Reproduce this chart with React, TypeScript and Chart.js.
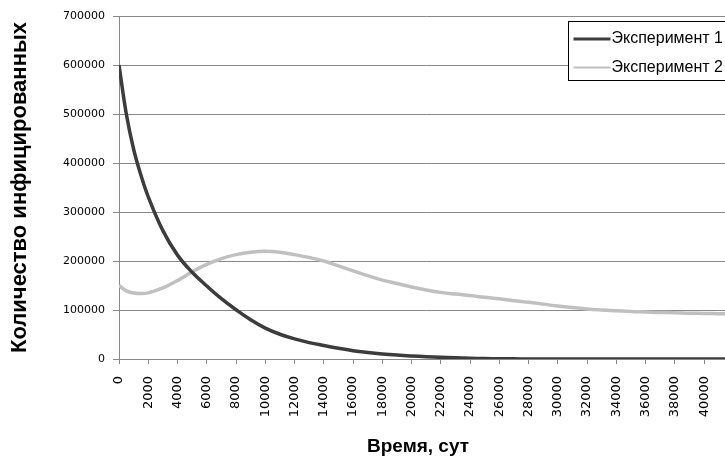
import { useEffect, useRef } from "react";
import { Chart, registerables } from "chart.js";

Chart.register(...registerables);

// Время, сут
const days = [
  0, 500, 1000, 1500, 2000, 3000, 4000, 5000, 6000, 7000, 8000, 9000, 10000,
  11000, 12000, 13000, 14000, 15000, 16000, 17000, 18000, 19000, 20000,
  21000, 22000, 23000, 24000, 25000, 26000, 27000, 28000, 29000, 30000,
  31000, 32000, 33000, 34000, 35000, 36000, 37000, 38000, 39000, 40000,
  41000, 42000,
];

const experiment1 = [
  600000, 500000, 428000, 375000, 331000, 262000, 212000, 177000, 149000, 123000, 100500, 80000, 63000,
  50500, 41000, 33500, 27500, 22000, 17000, 13300, 10300, 8000, 6200,
  4700, 3400, 2300, 1400, 900, 500, 300, 200, 130, 90,
  60, 40, 25, 15, 10, 6, 4, 3, 2, 1,
  1, 0,
];

const experiment2 = [
  150000, 139000, 134500, 133500, 135000, 145000, 160000, 178000, 193000, 205000, 213000, 218000, 220000,
  218000, 213000, 207000, 200000, 190000, 180000, 170000, 161000, 154000, 147000,
  141000, 136000, 132500, 129500, 126000, 123000, 119000, 116000, 112000, 108000,
  105000, 102000, 100000, 98500, 97000, 96000, 95000, 94500, 93500, 93000,
  92500, 92000,
];

const seriesNames = ["Эксперимент 1", "Эксперимент 2"];
const xTicks = [
  0, 2000, 4000, 6000, 8000, 10000, 12000, 14000, 16000, 18000, 20000,
  22000, 24000, 26000, 28000, 30000, 32000, 34000, 36000, 38000, 40000, 42000,
];
const yTicks = [0, 100000, 200000, 300000, 400000, 500000, 600000, 700000];
const xTitle = "Время, сут";
const yTitle = "Количество инфицированных";

const GRID = "#888888";

const boxLegend = {
  id: "boxLegend",
  afterDraw(chart: any) {
    const { ctx, chartArea } = chart;
    const x = Math.round(chartArea.right - 165) + 0.5;
    const y = Math.round(chartArea.top + 5) + 0.5;
    const w = 200;
    const h = 59;
    ctx.save();
    ctx.fillStyle = "#ffffff";
    ctx.fillRect(x, y, w, h);
    ctx.strokeStyle = "#000000";
    ctx.lineWidth = 1;
    ctx.strokeRect(x, y, w, h);
    chart.data.datasets.forEach((ds: any, i: number) => {
      const ly = y + 17.5 + i * 28.4;
      ctx.beginPath();
      ctx.strokeStyle = ds.borderColor;
      ctx.lineWidth = i === 0 ? 3 : 2;
      ctx.moveTo(x + 5, ly);
      ctx.lineTo(x + 42, ly);
      ctx.stroke();
      ctx.fillStyle = "#000000";
      ctx.font = "16px 'Liberation Sans', Arial, sans-serif";
      ctx.textBaseline = "middle";
      ctx.textAlign = "left";
      ctx.fillText(ds.label, x + 43, ly);
    });
    ctx.restore();
  },
};

const xTitlePlugin = {
  id: "xTitlePlugin",
  afterDraw(chart: any) {
    const { ctx, chartArea } = chart;
    ctx.save();
    ctx.fillStyle = "#000000";
    ctx.font = "bold 19px 'Liberation Sans', Arial, sans-serif";
    ctx.textBaseline = "middle";
    ctx.textAlign = "left";
    ctx.fillText(xTitle, chartArea.left + 248, chartArea.bottom + 88);
    ctx.restore();
  },
};

export default function App() {
  const ref = useRef<HTMLCanvasElement | null>(null);

  useEffect(() => {
    if (!ref.current) return;
    const chart = new Chart(ref.current, {
      type: "line",
      data: {
        datasets: [
          {
            label: seriesNames[0],
            data: days.map((d, i) => ({ x: d, y: experiment1[i] })),
            borderColor: "#3c3c3c",
            borderWidth: 3.5,
            pointRadius: 0,
            tension: 0.4,
            fill: false,
          },
          {
            label: seriesNames[1],
            data: days.map((d, i) => ({ x: d, y: experiment2[i] })),
            borderColor: "#c0c0c0",
            borderWidth: 3.5,
            pointRadius: 0,
            tension: 0.4,
            fill: false,
          },
        ],
      },
      options: {
        animation: false,
        responsive: true,
        maintainAspectRatio: false,
        layout: { padding: { left: 0, top: 16, right: 8, bottom: 0 } },
        plugins: {
          legend: { display: false },
          tooltip: { enabled: false },
        },
        scales: {
          x: {
            type: "linear",
            min: 0,
            max: 42000,
            afterBuildTicks: (s: any) => {
              s.ticks = xTicks.map((v) => ({ value: v }));
            },
            afterFit: (s: any) => {
              s.height = 100;
            },
            grid: {
              drawOnChartArea: false,
              drawTicks: true,
              tickLength: 5,
              color: GRID,
            },
            border: { display: true, color: GRID, width: 1 },
            ticks: {
              autoSkip: false,
              maxRotation: 90,
              minRotation: 90,
              padding: 12,
              color: "#000000",
              font: { family: "'DejaVu Sans', Verdana, sans-serif", size: 13 },
              callback: (v: any) => String(v),
            },
          },
          y: {
            min: 0,
            max: 700000,
            afterBuildTicks: (s: any) => {
              s.ticks = yTicks.map((v) => ({ value: v }));
            },
            afterFit: (s: any) => {
              s.width = 119;
            },
            grid: {
              drawOnChartArea: true,
              drawTicks: true,
              tickLength: 6,
              color: GRID,
            },
            border: { display: true, color: GRID, width: 1 },
            ticks: {
              padding: 8,
              color: "#000000",
              font: { family: "'DejaVu Sans', Verdana, sans-serif", size: 11 },
              callback: (v: any) => String(v),
            },
            title: {
              display: true,
              text: yTitle,
              color: "#000000",
              padding: { top: 7, bottom: 0 },
              font: { family: "'Liberation Sans', Arial, sans-serif", size: 22, weight: "bold" },
            },
          },
        },
      },
      plugins: [boxLegend, xTitlePlugin],
    });
    return () => chart.destroy();
  }, []);

  return (
    <div
      style={{
        position: "fixed",
        left: 0,
        top: 0,
        width: 725,
        height: 459,
        overflow: "hidden",
        background: "#ffffff",
      }}
    >
      <div style={{ position: "relative", width: 761, height: 459 }}>
        <canvas ref={ref} />
      </div>
    </div>
  );
}
